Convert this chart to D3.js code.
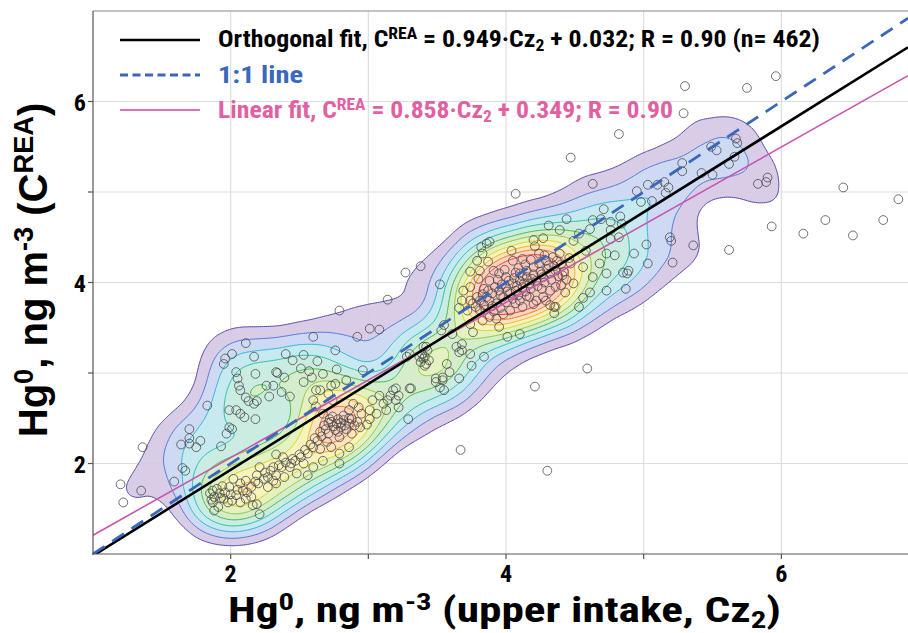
<!DOCTYPE html>
<html><head><meta charset="utf-8">
<script src="https://cdn.jsdelivr.net/npm/d3@7"></script>
<style>body{margin:0;background:#fff}svg{display:block}</style>
</head><body>
<svg id="c" width="908" height="633"></svg>
<script>
// ---------------- DATA ----------------
const majorTicks = [2, 4, 6];
const minorTicks = [3, 5];
const xDomain = [1, 6.92];
const yDomain = [1, 7];
const orthoFit = [0.949, 0.032];
const identityFit = [1, 0];
const linearFit = [0.858, 0.349];

const outliers = [[5.30,6.17],[5.29,5.87],[5.75,6.15],[5.96,6.28],[4.82,5.64],[4.47,5.38],[6.45,5.05],[6.85,4.92],[6.32,4.69],[6.74,4.69],[5.93,4.62],[6.16,4.54],[6.52,4.52],[5.62,4.36],[4.59,3.05],[4.21,2.85],[4.30,1.92],[3.67,2.15],[2.79,3.69],[3.14,3.81],[3.27,4.11],[3.38,4.18],[4.07,4.98],[4.63,5.09],[1.20,1.77],[1.22,1.57],[1.36,2.18],[1.35,1.70]];

const lowerLeftCluster = [[2.11,3.33],[2.01,3.21],[1.96,3.16],[1.95,3.10],[2.17,3.18],[2.04,3.01],[2.18,2.99],[2.34,3.00],[2.05,2.94],[2.06,2.86],[2.07,2.81],[2.26,2.86],[2.28,2.74],[2.11,2.73],[2.13,2.69],[2.19,2.69],[2.17,2.66],[1.99,2.59],[2.04,2.59],[2.07,2.55],[2.10,2.51],[2.18,2.49],[1.83,2.64],[1.99,2.40],[2.01,2.38],[1.97,2.33],[1.70,2.38],[1.70,2.28],[1.64,2.21],[1.70,2.22],[1.78,2.25],[1.75,2.18],[1.93,2.19],[1.65,1.95],[1.67,1.92],[1.59,1.80],
[2.33,2.10],[2.21,1.96],[2.25,1.90],[2.19,1.87],[2.27,1.85],[2.11,1.81],[2.02,1.83],[2.07,1.78],[1.99,1.74],[2.09,1.70],[2.15,1.74],[2.20,1.78],[1.87,1.70],[1.92,1.67],[1.85,1.67],[1.88,1.63],[1.95,1.61],[2.01,1.59],[2.04,1.65],[2.11,1.61],[2.07,1.57],[2.15,1.63],[1.87,1.57],[1.91,1.52],[1.88,1.48],[2.16,1.54],[2.19,1.55],[2.21,1.44],[2.33,1.78],[2.27,1.74],[2.31,1.96],
[1.90,1.72],[1.96,1.68],[1.93,1.62],[2.00,1.66],[1.86,1.60],[1.98,1.57],[2.05,1.71],[1.94,1.75],[2.12,1.68],
[2.18,1.80],[2.24,1.83],[2.29,1.92],[2.35,1.98],[2.40,2.01],[2.44,2.00]];

const lowerMidCluster = [[2.60,3.40],[2.92,3.40],[3.01,3.49],[3.08,3.48],[2.76,3.25],[2.40,3.21],[2.45,3.14],[2.53,3.20],[2.63,3.13],[2.77,3.04],[2.96,3.03],[2.33,3.01],[2.39,2.95],[2.51,3.05],[2.57,3.02],[2.59,2.95],[2.67,2.99],[2.53,2.90],[2.37,2.79],[2.43,2.74],[2.60,2.70],[2.65,2.81],[2.73,2.86],[2.71,2.77],[2.31,2.86],[2.62,2.63],[2.74,2.70],[2.67,2.55],[2.72,2.49],[2.77,2.44],[2.82,2.48],[2.80,2.40],[2.86,2.44],[2.90,2.42],[2.76,2.37],[2.71,2.33],[2.65,2.35],[2.63,2.25],[2.70,2.24],[2.73,2.18],[2.79,2.29],[2.65,2.16],[2.60,2.18],[2.56,2.11],[2.51,2.07],[2.53,2.00],[2.47,2.03],[2.43,1.96],[2.38,2.07],[2.37,1.96],[2.33,1.87],[2.31,1.81],[2.39,1.85],[2.48,1.89],[2.60,1.96],[2.56,1.87],[2.67,2.03],[2.79,2.11],[2.79,2.00],[2.86,2.18],[2.88,2.33],[2.94,2.40],[2.95,2.55],[3.01,2.59],[3.03,2.70],[3.06,2.55],[3.01,2.49],[2.99,2.43],[3.11,2.66],[3.14,2.70],[3.08,2.75],[3.16,2.75],[3.22,2.75],[3.18,2.81],[3.20,2.70],[3.22,2.62],[3.13,2.59],[3.31,2.83],[3.29,2.49],[2.89,2.66],[2.86,2.59],[2.93,2.62],[2.62,2.81],[2.84,2.92],[2.76,2.88],[3.39,3.21],[3.42,3.29],[3.40,3.16],[3.44,3.14],[3.41,3.08],[3.49,2.94],[3.54,2.92],[3.52,2.84],[3.55,2.81],
[2.73,2.46],[2.78,2.49],[2.84,2.38],[2.68,2.42],[2.82,2.53],[2.88,2.49],
[2.75,2.41],[2.80,2.45],[2.74,2.52],[2.69,2.38],[2.83,2.42],[2.78,2.35],[2.86,2.50],[2.71,2.45],[2.92,2.46],[2.66,2.30],[2.61,2.28],[2.58,2.21],[2.54,2.15],[2.50,2.10],[2.45,2.05]];

const upperCluster = [[3.52,3.98],[3.82,4.39],[3.86,4.43],[3.88,4.45],[3.83,4.32],[3.87,4.23],[3.79,4.24],[3.74,4.12],[3.81,4.13],[3.91,4.13],[3.80,4.04],[3.84,3.93],[4.04,4.35],[4.05,4.24],[4.20,4.47],[4.27,4.49],[4.21,4.40],[4.31,4.63],[3.99,4.14],[4.07,4.11],[4.12,4.07],[3.66,3.72],[3.68,3.80],[3.74,3.80],[3.72,3.69],[3.74,3.54],[3.76,3.45],[3.55,3.53],[3.53,3.47],[3.61,3.43],[3.64,3.29],[3.68,3.25],[3.74,3.21],[3.68,3.32],[3.84,3.18],[3.57,3.10],[3.59,3.01],[3.54,2.95],[3.49,2.90],[3.66,2.94],[3.41,3.18],[3.42,3.10],[3.38,3.12],[3.37,3.18],[3.30,3.21],[3.28,3.18],[3.40,3.29],[3.43,3.25],[3.20,2.83],[3.30,2.83],[4.01,3.40],[4.10,3.43],[3.95,3.51],[3.88,3.62],[3.83,3.58],[3.81,3.69],[3.75,3.08],[3.66,3.23],
[3.78,3.73],[3.84,3.75],[3.88,3.80],[3.93,3.77],[3.98,3.84],[4.03,3.88],[4.07,3.91],[4.12,3.95],[4.17,3.99],[4.22,4.02],[4.27,4.06],[4.32,4.10],[4.36,4.13],[4.24,4.21],[4.29,4.24],[4.34,4.28],[4.20,4.17],[4.15,4.13],[4.10,4.02],[4.05,3.99],[4.00,3.95],[3.95,3.91],[3.90,3.88],[3.86,3.84],[3.81,3.80],[3.76,3.77],[4.17,3.84],[4.22,3.80],[4.27,3.84],[4.32,3.91],[4.36,3.95],[4.07,3.77],[4.12,3.73],[4.03,3.69],[3.98,3.65],[3.93,3.60],[4.32,3.75],[4.36,3.73],[4.24,4.32],[4.12,4.26],[3.95,4.10],[3.88,4.02],[3.74,3.95],[3.69,3.91],
[3.85,3.70],[3.90,3.74],[3.96,3.72],[4.00,3.78],[4.05,3.82],[4.09,3.86],[4.14,3.90],[4.18,3.93],[4.23,3.96],[4.28,4.00],[4.33,4.03],[4.38,4.07],[4.42,4.12],[4.40,4.20],[4.35,4.18],[4.30,4.15],[4.25,4.12],[4.20,4.09],[4.15,4.06],[4.10,4.10],[4.06,4.05],[4.02,4.02],[3.97,3.98],[3.92,3.95],[3.87,3.91],[3.83,3.87],[3.79,3.84],[3.96,3.86],[4.01,3.90],[4.08,3.96],[4.13,3.99],[4.19,4.04],[4.26,4.09],[4.31,4.19],[4.37,4.24],[4.28,4.30],[4.18,4.25],[4.14,4.20],[4.09,4.16],[4.00,4.06],[3.94,4.03],[4.44,4.03],[4.40,3.97],[4.26,3.93],[4.15,3.85],[4.10,3.80],[4.20,3.76],[4.29,3.80],[3.91,3.68],[4.46,4.27]];

const upperRightCluster = [[4.95,5.01],[5.03,5.08],[5.10,5.08],[5.06,4.90],[4.98,4.89],[5.15,5.11],[5.18,5.05],[5.16,4.99],[5.28,5.32],[5.28,5.23],[5.42,5.21],[4.71,4.81],[4.83,4.73],[4.69,4.70],[4.76,4.67],[4.84,4.65],[4.76,4.58],[4.44,4.70],[5.19,4.50],[5.20,4.46],[5.36,4.41],[5.02,4.42],[4.79,4.30],[5.21,4.22],[5.03,4.21],[4.85,4.11],[4.89,4.13],[4.88,4.10],[4.87,3.93],[4.56,3.83],[4.35,3.73],[4.35,3.66],[4.61,4.59],[4.63,4.69],[4.39,4.58],[4.49,4.46],[4.53,4.54],[4.58,4.35],[4.39,4.32],[4.47,4.21],[4.56,4.17],[4.68,4.21],[4.73,4.10],[4.63,4.06],[4.49,3.99],[4.43,3.89],[4.61,3.89],[4.73,3.91],[4.53,3.73],[4.73,4.32],[4.41,4.08],[4.82,4.50],[4.76,4.48],[5.89,5.11],[5.83,5.09],[5.90,5.16],
[5.49,5.50],[5.53,5.46],[5.62,5.31],[5.67,5.59],[5.68,5.54],[5.66,5.39],[5.50,5.19],[4.93,4.32]];

// ---------------- LAYOUT / STYLE ----------------
const M = {left: 93, right: 908, top: 11, bottom: 554};
const W = M.right - M.left, H = M.bottom - M.top;
const narrow = "'Liberation Sans Narrow','Arial Narrow','Roboto Condensed','Liberation Sans',Arial,sans-serif";
const wide = "'Liberation Sans',Arial,Helvetica,sans-serif";
const levelFractions = [0.05, 0.095, 0.15, 0.21, 0.28, 0.35, 0.43, 0.51, 0.59, 0.68];
const levelStroke = ['#5448a8','#4f76d8','#2fb4dc','#26c0b0','#44b844','#8cc83c','#d8d820','#f4b020','#f07828','#ec3a2a'];
const levelFill   = ['#d4c6e4','#cddcf4','#c6eaf0','#cbecdf','#d6edc9','#e6f1bf','#f8f3bb','#fde3bb','#fcd3c0','#f9c4be'];

const svg = d3.select('#c');
const x = d3.scaleLinear().domain(xDomain).range([M.left, M.right]);
const y = d3.scaleLinear().domain(yDomain).range([M.bottom, M.top]);

svg.append('defs').append('clipPath').attr('id','clip')
  .append('rect').attr('x', M.left).attr('y', M.top).attr('width', W).attr('height', H);

// grid
const grid = svg.append('g');
[...majorTicks, ...minorTicks].forEach(v => {
  grid.append('line').attr('x1', x(v)).attr('x2', x(v)).attr('y1', M.top).attr('y2', M.bottom)
    .attr('stroke', '#dedede').attr('stroke-width', 1.2);
  grid.append('line').attr('y1', y(v)).attr('y2', y(v)).attr('x1', M.left).attr('x2', M.right)
    .attr('stroke', '#dedede').attr('stroke-width', 1.2);
});

// density contours
const points = [...outliers, ...lowerLeftCluster, ...lowerMidCluster, ...upperCluster, ...upperRightCluster];
const dens = d3.contourDensity()
  .x(d => x(d[0]) - M.left).y(d => y(d[1]) - M.top)
  .size([W, H]).cellSize(2).bandwidth(22);
let levels;
if (typeof dens.contours === 'function') {
  const cf = dens.contours(points);
  levels = levelFractions.map(f => cf(f * cf.max));
} else {
  const all = dens.thresholds(300)(points);
  const mx = d3.max(all, d => d.value);
  levels = dens.thresholds(levelFractions.map(f => f * mx))(points);
}
const cg = svg.append('g').attr('clip-path','url(#clip)')
  .append('g').attr('transform', `translate(${M.left},${M.top})`);
cg.selectAll('path').data(levels).join('path')
  .attr('d', d3.geoPath())
  .attr('fill', (d, i) => levelFill[i])
  .attr('fill-opacity', 0.9)
  .attr('stroke', (d, i) => levelStroke[i])
  .attr('stroke-width', 1);

// points
svg.append('g').attr('clip-path','url(#clip)').selectAll('circle').data(points).join('circle')
  .attr('cx', d => x(d[0])).attr('cy', d => y(d[1])).attr('r', 4.4)
  .attr('fill', 'none').attr('stroke', '#444').attr('stroke-width', 0.9).attr('stroke-opacity', 0.85);

// fit lines
const lg = svg.append('g').attr('clip-path','url(#clip)');
function fitLine(fit) { return xDomain.map(v => [x(v), y(fit[0] * v + fit[1])]); }
lg.append('path').attr('d', d3.line()(fitLine(linearFit))).attr('stroke', '#c955b0').attr('stroke-width', 1.6).attr('fill','none');
lg.append('path').attr('d', d3.line()(fitLine(orthoFit))).attr('stroke', '#000').attr('stroke-width', 2.6).attr('fill','none');
lg.append('path').attr('d', d3.line()(fitLine(identityFit))).attr('stroke', '#3a66bb').attr('stroke-width', 2.8)
  .attr('stroke-dasharray', '14,9').attr('fill','none');

// axes
const ax = svg.append('g').attr('stroke', '#555').attr('stroke-width', 1.2);
ax.append('line').attr('x1', M.left).attr('x2', M.right).attr('y1', M.top).attr('y2', M.top).attr('stroke','#888');
ax.append('line').attr('x1', M.left).attr('x2', M.left).attr('y1', M.top).attr('y2', M.bottom + 1);
ax.append('line').attr('x1', M.left - 1).attr('x2', M.right).attr('y1', M.bottom).attr('y2', M.bottom);
[...majorTicks, ...minorTicks].forEach(v => {
  ax.append('line').attr('x1', x(v)).attr('x2', x(v)).attr('y1', M.bottom).attr('y2', M.bottom + 5);
  ax.append('line').attr('y1', y(v)).attr('y2', y(v)).attr('x1', M.left - 5).attr('x2', M.left);
});
majorTicks.forEach(v => {
  svg.append('text').attr('x', x(v)).attr('y', 582).attr('text-anchor','middle')
    .attr('font-family', narrow).attr('font-weight','bold').attr('font-size', 24).text(v);
  svg.append('text').attr('x', 86).attr('y', y(v) + 9).attr('text-anchor','end')
    .attr('font-family', narrow).attr('font-weight','bold').attr('font-size', 24).text(v);
});

// rich text helper
function rich(t, parts, size) {
  let off = 0;
  parts.forEach(([s, k]) => {
    const target = k === 'sup' ? -size * 0.34 : k === 'sub' ? size * 0.18 : 0;
    const ts = t.append('tspan').text(s).attr('dy', target - off);
    if (k) ts.attr('font-size', size * 0.68);
    off = target;
  });
}

// axis titles
const xt = svg.append('text').attr('x', 228).attr('y', 622)
  .attr('font-family', narrow).attr('font-weight','bold').attr('font-size', 35)
  .attr('textLength', 553).attr('lengthAdjust','spacingAndGlyphs');
rich(xt, [['Hg'],['0','sup'],[', ng m'],['-3','sup'],[' (upper intake, Cz'],['2','sub'],[')']], 35);

const yt = svg.append('text').attr('transform','translate(47,270) rotate(-90)').attr('text-anchor','middle')
  .attr('font-family', wide).attr('font-weight','bold').attr('font-size', 40);
rich(yt, [['Hg'],['0','sup'],[', ng m'],['-3','sup'],[' (C'],['REA','sup'],[')']], 40);

// legend
const leg = svg.append('g');
leg.append('line').attr('x1',120).attr('x2',200).attr('y1',40).attr('y2',40).attr('stroke','#000').attr('stroke-width',2.6);
leg.append('line').attr('x1',120).attr('x2',200).attr('y1',75).attr('y2',75).attr('stroke','#3a66bb').attr('stroke-width',3).attr('stroke-dasharray','8,4.5');
leg.append('line').attr('x1',120).attr('x2',200).attr('y1',110).attr('y2',110).attr('stroke','#e070b0').attr('stroke-width',1.8);
const t1 = leg.append('text').attr('x',218).attr('y',47).attr('font-family',narrow).attr('font-weight','bold')
  .attr('font-size',23).attr('fill','#000').attr('textLength',602).attr('lengthAdjust','spacingAndGlyphs');
rich(t1, [['Orthogonal fit, C'],['REA','sup'],[' = 0.949·Cz'],['2','sub'],[' + 0.032; R = 0.90 (n= 462)']], 23);
leg.append('text').attr('x',218).attr('y',83).attr('font-family',narrow).attr('font-weight','bold')
  .attr('font-size',23).attr('fill','#3a68bd').attr('textLength',85).attr('lengthAdjust','spacingAndGlyphs').text('1:1 line');
const t3 = leg.append('text').attr('x',218).attr('y',118).attr('font-family',narrow).attr('font-weight','bold')
  .attr('font-size',23).attr('fill','#e2609f').attr('textLength',455).attr('lengthAdjust','spacingAndGlyphs');
rich(t3, [['Linear fit, C'],['REA','sup'],[' = 0.858·Cz'],['2','sub'],[' + 0.349; R = 0.90']], 23);
</script>
</body></html>
